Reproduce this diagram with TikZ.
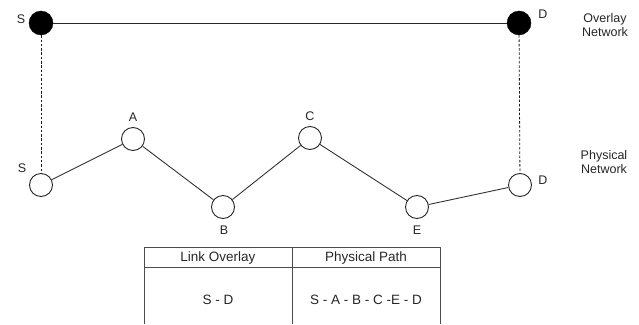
\documentclass[tikz,border=0pt]{standalone}
\usepackage{fontspec}
\setmainfont{Liberation Sans}
\begin{document}
\begin{tikzpicture}[x=1pt,y=-1pt,
  txt/.style={font=\fontsize{12.5}{14.5}\selectfont, text=black!85},
  cell/.style={font=\fontsize{13.5}{15}\selectfont, text=black!85},
  overlaynode/.style={circle, draw=black, fill=black, minimum size=24pt, inner sep=0pt},
  physnode/.style={circle, draw=black!85, fill=white, line width=0.9pt, minimum size=23pt, inner sep=0pt},
  link/.style={draw=black!80, line width=0.9pt},
  mapping/.style={draw=black!90, line width=0.8pt, dash pattern=on 2.5pt off 1.8pt},
  tbl/.style={draw=black!70, line width=0.9pt}
]
\useasboundingbox (0,0) rectangle (639,324);

% overlay layer
\node[overlaynode] (oS) at (41,23) {};
\node[overlaynode] (oD) at (519,23) {};
\draw[link, draw=black!85] (oS) -- (oD);
\node[txt] (loS) at (21,19) {S};
\node[txt] (loD) at (543,14) {D};
\node[txt, align=center] (lov) at (605,25) {Overlay\\[-1pt]Network};

% physical layer
\node[physnode] (pS) at (41,185) {};
\node[physnode] (pA) at (133,139) {};
\node[physnode] (pB) at (223,207) {};
\node[physnode] (pC) at (310,138) {};
\node[physnode] (pE) at (417,207) {};
\node[physnode] (pD) at (520,185) {};
\draw[link] (pS) -- (pA) -- (pB) -- (pC) -- (pE) -- (pD);
\node[txt] (lpS) at (22,168) {S};
\node[txt] (lpA) at (133,117) {A};
\node[txt] (lpB) at (224,230) {B};
\node[txt] (lpC) at (310,116) {C};
\node[txt] (lpE) at (417,230) {E};
\node[txt] (lpD) at (543,180) {D};
\node[txt, align=center] (lph) at (604,162) {Physical\\[-1pt]Network};

% overlay-to-physical mapping
\draw[mapping] (oS) -- (pS);
\draw[mapping] (oD) -- (pD);

% table
\coordinate (tl) at (144,247);
\coordinate (tr) at (440,247);
\coordinate (hl) at (144,267);
\coordinate (hr) at (440,267);
\coordinate (bl) at (144,324);
\coordinate (br) at (440,324);
\coordinate (mt) at (292,247);
\coordinate (mb) at (292,324);
\draw[tbl] (bl) -- (tl) -- (tr) -- (br);
\draw[tbl] (hl) -- (hr);
\draw[tbl] (mt) -- (mb);
\node[cell] (h1) at (218,258) {Link Overlay};
\node[cell] (h2) at (366,258) {Physical Path};
\node[cell] (c1) at (218,300) {S - D};
\node[cell] (c2) at (366,300) {S - A - B - C -E - D};
\end{tikzpicture}
\end{document}
